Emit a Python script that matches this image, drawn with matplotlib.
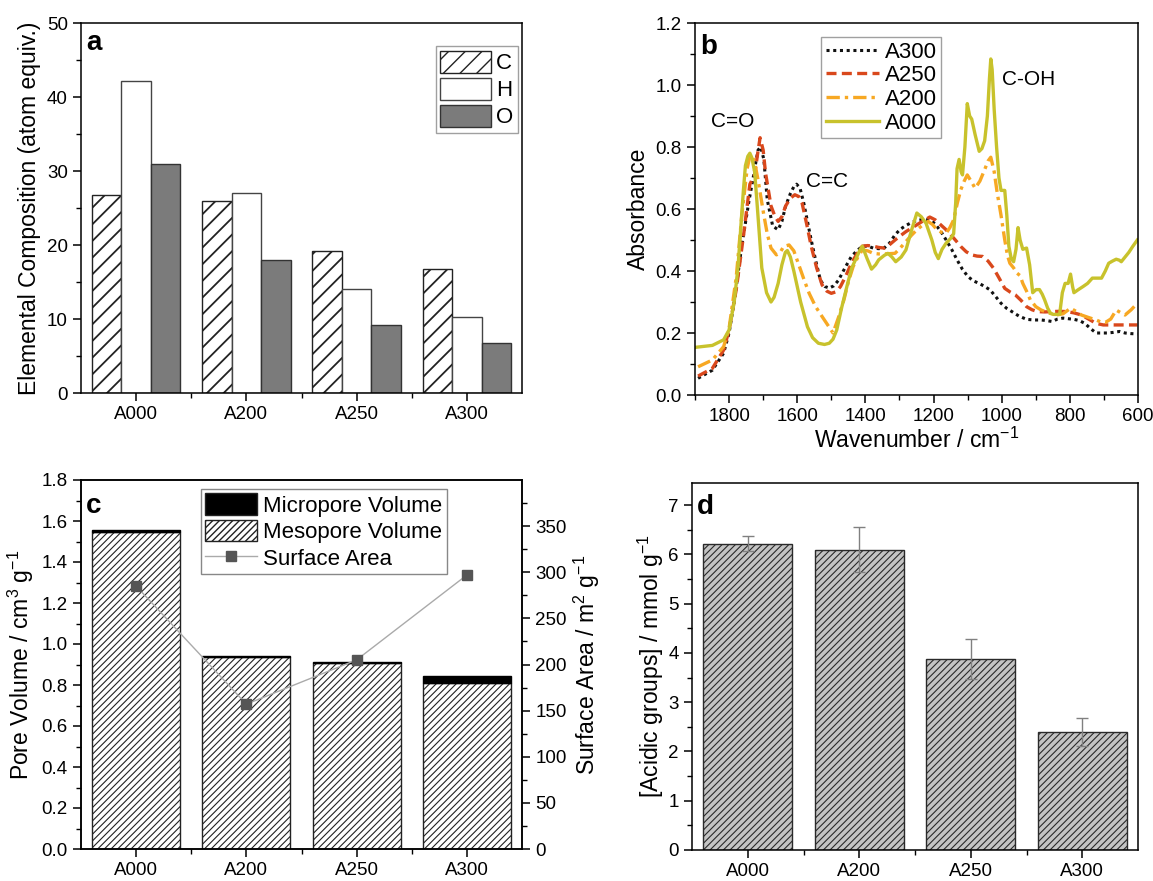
import matplotlib
matplotlib.use("Agg")
import matplotlib.pyplot as plt
from matplotlib.patches import Patch
from matplotlib.lines import Line2D
from matplotlib.ticker import MultipleLocator, FixedLocator, FormatStrFormatter
import numpy as np

plt.rcParams['font.family'] = ['Liberation Sans', 'DejaVu Sans']
plt.rcParams['mathtext.default'] = 'regular'
plt.rcParams['axes.linewidth'] = 1.1
plt.rcParams['xtick.major.width'] = 1.1
plt.rcParams['ytick.major.width'] = 1.1
plt.rcParams['xtick.minor.width'] = 1.0
plt.rcParams['ytick.minor.width'] = 1.0
plt.rcParams['xtick.major.size'] = 6
plt.rcParams['ytick.major.size'] = 6
plt.rcParams['xtick.minor.size'] = 3.5
plt.rcParams['ytick.minor.size'] = 3.5

# ---------------- data ----------------
samples = ['A000', 'A200', 'A250', 'A300']

# panel a: elemental composition
comp_C = [26.8, 26.0, 19.2, 16.8]
comp_H = [42.2, 27.0, 14.1, 10.3]
comp_O = [31.0, 18.0, 9.2, 6.8]

# panel b: FTIR spectra (wavenumber, absorbance)
wn_A300 = [1891, 1849, 1816, 1800, 1784, 1763, 1741, 1731, 1720, 1715, 1707, 1698, 1688, 1672,
           1656, 1645, 1634, 1620, 1610, 1602, 1592, 1581, 1570, 1559, 1545, 1532, 1519, 1506,
           1493, 1479, 1460, 1441, 1425, 1409, 1393, 1377, 1361, 1345, 1329, 1313, 1297, 1281,
           1265, 1249, 1232, 1216, 1203, 1190, 1177, 1163, 1147, 1131, 1115, 1099, 1083, 1066,
           1050, 1034, 1018, 1002, 986, 970, 950, 927, 905, 884, 868, 852, 836, 820, 804, 788,
           772, 756, 740, 723, 707, 691, 672, 654, 638, 620, 602]
ab_A300 = [0.054, 0.080, 0.135, 0.200, 0.307, 0.480, 0.630, 0.690, 0.760, 0.790, 0.800, 0.760, 0.630, 0.545,
           0.533, 0.560, 0.610, 0.650, 0.672, 0.680, 0.668, 0.620, 0.560, 0.500, 0.430, 0.370, 0.350, 0.345,
           0.352, 0.370, 0.410, 0.447, 0.465, 0.480, 0.480, 0.474, 0.472, 0.474, 0.490, 0.517, 0.535, 0.547,
           0.556, 0.563, 0.566, 0.565, 0.560, 0.544, 0.525, 0.500, 0.470, 0.436, 0.405, 0.382, 0.368, 0.360,
           0.350, 0.339, 0.318, 0.296, 0.280, 0.269, 0.255, 0.244, 0.242, 0.242, 0.240, 0.237, 0.245, 0.248, 0.246, 0.244,
           0.240, 0.231, 0.215, 0.200, 0.200, 0.200, 0.202, 0.205, 0.200, 0.198, 0.197]

wn_A250 = [1891, 1849, 1816, 1800, 1779, 1757, 1739, 1725, 1716, 1709, 1700, 1693, 1677, 1665,
           1656, 1645, 1634, 1620, 1607, 1595, 1586, 1572, 1559, 1543, 1527, 1513, 1500, 1486,
           1473, 1457, 1441, 1425, 1409, 1393, 1377, 1361, 1345, 1329, 1313, 1297, 1281, 1265,
           1249, 1230, 1211, 1195, 1179, 1165, 1152, 1136, 1120, 1104, 1088, 1072, 1056, 1040,
           1024, 1008, 991, 975, 960, 943, 927, 911, 895, 873, 852, 830, 809, 788, 766, 745,
           723, 702, 680, 660, 640, 620, 602]
ab_A250 = [0.061, 0.086, 0.145, 0.210, 0.340, 0.520, 0.680, 0.710, 0.780, 0.830, 0.790, 0.716, 0.610, 0.575,
           0.560, 0.575, 0.610, 0.635, 0.646, 0.640, 0.620, 0.550, 0.480, 0.410, 0.355, 0.335, 0.328, 0.333,
           0.350, 0.385, 0.425, 0.455, 0.480, 0.482, 0.480, 0.476, 0.474, 0.485, 0.500, 0.514, 0.527, 0.538,
           0.549, 0.562, 0.574, 0.565, 0.549, 0.535, 0.520, 0.500, 0.479, 0.462, 0.452, 0.448, 0.447, 0.432,
           0.409, 0.378, 0.344, 0.332, 0.323, 0.305, 0.285, 0.275, 0.269, 0.268, 0.269, 0.270, 0.269, 0.265, 0.258, 0.245,
           0.231, 0.226, 0.226, 0.226, 0.226, 0.226, 0.226]

wn_A200 = [1891, 1849, 1816, 1800, 1779, 1763, 1747, 1740, 1733, 1724, 1715, 1699, 1688, 1677,
           1661, 1650, 1640, 1624, 1610, 1597, 1581, 1565, 1546, 1527, 1510, 1495, 1479, 1463,
           1450, 1436, 1422, 1409, 1393, 1377, 1361, 1345, 1329, 1313, 1297, 1281, 1265, 1249,
           1232, 1216, 1203, 1190, 1177, 1163, 1152, 1141, 1130, 1120, 1110, 1101, 1090, 1078,
           1064, 1050, 1040, 1032, 1022, 1013, 1002, 991, 983, 976, 965, 955, 946, 938, 927, 916,
           900, 884, 862, 841, 820, 798, 782, 766, 745, 723, 710, 696, 680, 664, 650, 638, 620, 602]
ab_A200 = [0.091, 0.113, 0.156, 0.215, 0.380, 0.576, 0.730, 0.765, 0.775, 0.745, 0.694, 0.587, 0.520, 0.474,
           0.452, 0.460, 0.479, 0.484, 0.465, 0.425, 0.375, 0.328, 0.285, 0.253, 0.225, 0.200, 0.250, 0.307,
           0.365, 0.414, 0.445, 0.468, 0.465, 0.457, 0.455, 0.455, 0.456, 0.457, 0.475, 0.495, 0.515, 0.533,
           0.548, 0.560, 0.550, 0.533, 0.525, 0.522, 0.540, 0.565, 0.620, 0.662, 0.690, 0.710, 0.690, 0.667,
           0.690, 0.727, 0.755, 0.767, 0.720, 0.651, 0.580, 0.500, 0.450, 0.425, 0.410, 0.393, 0.385, 0.360, 0.335, 0.307,
           0.285, 0.274, 0.265, 0.258, 0.262, 0.280, 0.270, 0.258, 0.250, 0.242, 0.236, 0.234, 0.245, 0.274, 0.265, 0.258, 0.275, 0.296]

wn_A000 = [1897, 1849, 1816, 1800, 1785, 1774, 1765, 1758, 1752, 1745, 1739, 1733, 1725, 1718,
           1710, 1704, 1690, 1677, 1668, 1656, 1645, 1635, 1629, 1620, 1610, 1602, 1590, 1570,
           1555, 1538, 1520, 1506, 1495, 1484, 1470, 1452, 1440, 1425, 1415, 1409, 1395, 1382,
           1370, 1361, 1345, 1334, 1322, 1311, 1295, 1281, 1265, 1249, 1236, 1222, 1205, 1195,
           1186, 1175, 1163, 1150, 1141, 1135, 1131, 1125, 1119, 1115, 1108, 1101, 1094, 1088,
           1078, 1066, 1058, 1050, 1042, 1036, 1032, 1028, 1022, 1015, 1008, 1002, 991, 985,
           979, 972, 965, 958, 952, 946, 938, 927, 918, 909, 899, 889, 881, 874, 865, 857,
           849, 841, 830, 822, 814, 805, 798, 792, 788, 775, 761, 748, 734, 720, 707, 696,
           686, 675, 664, 655, 649, 638, 627, 615, 602]
ab_A000 = [0.154, 0.160, 0.178, 0.210, 0.300, 0.410, 0.550, 0.660, 0.740, 0.770, 0.780, 0.765, 0.720, 0.620,
           0.500, 0.410, 0.330, 0.300, 0.315, 0.360, 0.420, 0.460, 0.466, 0.445, 0.400, 0.360, 0.300, 0.220,
           0.185, 0.167, 0.163, 0.167, 0.180, 0.210, 0.280, 0.360, 0.410, 0.446, 0.470, 0.480, 0.440, 0.406,
           0.420, 0.436, 0.450, 0.457, 0.445, 0.430, 0.445, 0.468, 0.530, 0.587, 0.575, 0.554, 0.500, 0.460,
           0.440, 0.470, 0.490, 0.505, 0.520, 0.620, 0.730, 0.760, 0.720, 0.710, 0.800, 0.940, 0.900, 0.890,
           0.840, 0.786, 0.795, 0.820, 0.900, 1.020, 1.084, 1.050, 0.920, 0.800, 0.700, 0.660, 0.660, 0.580,
           0.480, 0.440, 0.430, 0.470, 0.540, 0.500, 0.470, 0.474, 0.420, 0.330, 0.340, 0.340, 0.325, 0.307, 0.280, 0.264,
           0.260, 0.260, 0.260, 0.330, 0.360, 0.360, 0.390, 0.350, 0.330, 0.340, 0.350, 0.360, 0.377, 0.377, 0.377, 0.400,
           0.425, 0.432, 0.438, 0.435, 0.430, 0.445, 0.460, 0.480, 0.500]

# panel c: porosity
meso_vol = [1.548, 0.938, 0.909, 0.810]
micro_vol = [0.008, 0.004, 0.003, 0.034]
surface_area = [285, 157, 205, 297]

# panel d: acidic groups
acid = [6.22, 6.10, 3.88, 2.40]
acid_err = [0.15, 0.45, 0.40, 0.28]

# ---------------- figure ----------------
W, H = 1153, 881
fig = plt.figure(figsize=(W / 100, H / 100), dpi=100)

def frac(left, top, right, bottom):
    return [left / W, 1 - bottom / H, (right - left) / W, (bottom - top) / H]

TICK = 13.5
LAB = 16.5
LEG = 16

def style(ax, ymaj, ymin):
    ax.tick_params(which='both', direction='out', top=False, right=False, labelsize=TICK)
    ax.yaxis.set_major_locator(MultipleLocator(ymaj))
    ax.yaxis.set_minor_locator(MultipleLocator(ymin))

def panel_label(ax, s, y):
    ax.text(0.012, y, s, transform=ax.transAxes, fontsize=20, fontweight='bold',
            ha='left', va='center')

x = np.arange(len(samples))
DENSE = '/////'

# ---- panel a ----
axa = fig.add_axes(frac(81, 23, 522, 393))
bw = 0.268
with plt.rc_context({'hatch.linewidth': 1.3}):
    axa.bar(x - bw, comp_C, bw, facecolor='white', edgecolor='#222222', hatch='//',
            linewidth=1.0, label='C')
axa.bar(x, comp_H, bw, facecolor='white', edgecolor='#444444', linewidth=1.0, label='H')
axa.bar(x + bw, comp_O, bw, facecolor='#7b7b7b', edgecolor='#333333', linewidth=1.0, label='O')
axa.set_xlim(-0.5, 3.5)
axa.set_ylim(0, 50)
style(axa, 10, 5)
axa.set_xticks(x)
axa.set_xticklabels(samples)
axa.xaxis.set_minor_locator(FixedLocator([0.5, 1.5, 2.5]))
axa.set_ylabel('Elemental Composition (atom equiv.)', fontsize=LAB, labelpad=4)
panel_label(axa, 'a', 0.945)
lga = axa.legend(loc='upper right', bbox_to_anchor=(0.99, 0.937), fontsize=LEG, frameon=True,
                 fancybox=False, edgecolor='#888888', handlelength=2.3, handleheight=1.15,
                 labelspacing=0.15, borderpad=0.2, handletextpad=0.2, borderaxespad=0)
lga.get_frame().set_linewidth(1.0)

# ---- panel b ----
axb = fig.add_axes(frac(695, 23, 1138, 395))
axb.plot(wn_A300, ab_A300, linestyle=(0, (1, 1.2)), color='#111111', lw=2.2, label='A300')
axb.plot(wn_A250, ab_A250, linestyle=(0, (3, 1.6)), color='#d9481c', lw=2.4, label='A250')
axb.plot(wn_A200, ab_A200, linestyle=(0, (4, 1.5, 1, 1.5)), color='#f7a823', lw=2.4, label='A200')
axb.plot(wn_A000, ab_A000, linestyle='-', color='#c8c22c', lw=2.4, label='A000')
axb.set_xlim(1900, 600)
axb.set_ylim(0, 1.2)
style(axb, 0.2, 0.1)
axb.xaxis.set_major_locator(MultipleLocator(200))
axb.xaxis.set_minor_locator(MultipleLocator(100))
axb.yaxis.set_major_formatter(FormatStrFormatter('%.1f'))
axb.set_xlabel('Wavenumber / cm$^{-1}$', fontsize=LAB, labelpad=2)
axb.set_ylabel('Absorbance', fontsize=LAB, labelpad=4)
panel_label(axb, 'b', 0.935)
axb.text(1790, 0.883, 'C=O', fontsize=15, ha='center', va='center')
axb.text(1511, 0.689, 'C=C', fontsize=15, ha='center', va='center')
axb.text(921, 1.017, 'C-OH', fontsize=15, ha='center', va='center')
lgb = axb.legend(loc='upper left', bbox_to_anchor=(0.285, 0.962), fontsize=LEG, frameon=True,
                 fancybox=False, edgecolor='#888888', handlelength=2.4, labelspacing=0.12,
                 borderpad=0.2, handletextpad=0.25, borderaxespad=0)
lgb.get_frame().set_linewidth(1.0)

# ---- panel c ----
axc = fig.add_axes(frac(81, 480, 522, 849))
with plt.rc_context({'hatch.linewidth': 0.8}):
    axc.bar(x, meso_vol, 0.8, facecolor='white', edgecolor='#222222', hatch=DENSE, linewidth=1.0)
axc.bar(x, micro_vol, 0.8, bottom=meso_vol, facecolor='black', edgecolor='black', linewidth=1.0)
axc.set_xlim(-0.5, 3.5)
axc.set_ylim(0, 1.8)
style(axc, 0.2, 0.1)
axc.yaxis.set_major_formatter(FormatStrFormatter('%.1f'))
axc.set_xticks(x)
axc.set_xticklabels(samples)
axc.xaxis.set_minor_locator(FixedLocator([0.5, 1.5, 2.5]))
axc.set_ylabel('Pore Volume / cm$^3$ g$^{-1}$', fontsize=LAB, labelpad=4)
panel_label(axc, 'c', 0.93)

axc2 = axc.twinx()
axc2.plot(x, surface_area, color='#aaaaaa', lw=1.0, marker='s', markersize=7,
          markerfacecolor='#555555', markeredgecolor='#555555')
axc2.set_ylim(0, 400)
axc2.yaxis.set_major_locator(FixedLocator([0, 50, 100, 150, 200, 250, 300, 350]))
axc2.yaxis.set_minor_locator(FixedLocator(np.arange(25, 400, 50)))
axc2.tick_params(which='both', direction='out', labelsize=TICK)
axc2.set_ylabel('Surface Area / m$^2$ g$^{-1}$', fontsize=LAB, labelpad=4)

with plt.rc_context({'hatch.linewidth': 0.8}):
    h_micro = Patch(facecolor='black', edgecolor='#222222', label='Micropore Volume')
    h_meso = Patch(facecolor='white', edgecolor='#222222', hatch=DENSE, label='Mesopore Volume')
h_sa = Line2D([], [], color='#aaaaaa', lw=1.0, marker='s', markersize=7,
              markerfacecolor='#555555', markeredgecolor='#555555', label='Surface Area')
lgc = axc2.legend(handles=[h_micro, h_meso, h_sa], loc='upper left', bbox_to_anchor=(0.272, 0.976),
                  fontsize=LEG, frameon=True, fancybox=False, edgecolor='#888888', framealpha=1,
                  handlelength=2.3, handleheight=1.1, labelspacing=0.15, borderpad=0.2,
                  handletextpad=0.3, borderaxespad=0)
lgc.get_frame().set_linewidth(1.0)

# ---- panel d ----
axd = fig.add_axes(frac(692, 483, 1138, 850))
with plt.rc_context({'hatch.linewidth': 0.8}):
    axd.bar(x, acid, 0.8, facecolor='#c4c4c4', edgecolor='#2a2a2a', hatch=DENSE, linewidth=1.0)
axd.errorbar(x, acid, yerr=acid_err, fmt='none', ecolor='#808080', elinewidth=1.0, capsize=4,
             capthick=1.0)
axd.set_xlim(-0.5, 3.5)
axd.set_ylim(0, 7.45)
style(axd, 1, 0.5)
axd.set_xticks(x)
axd.set_xticklabels(samples)
axd.xaxis.set_minor_locator(FixedLocator([0.5, 1.5, 2.5]))
axd.set_ylabel('[Acidic groups] / mmol g$^{-1}$', fontsize=LAB, labelpad=2)
panel_label(axd, 'd', 0.934)

fig.savefig('out.png', dpi=100)
